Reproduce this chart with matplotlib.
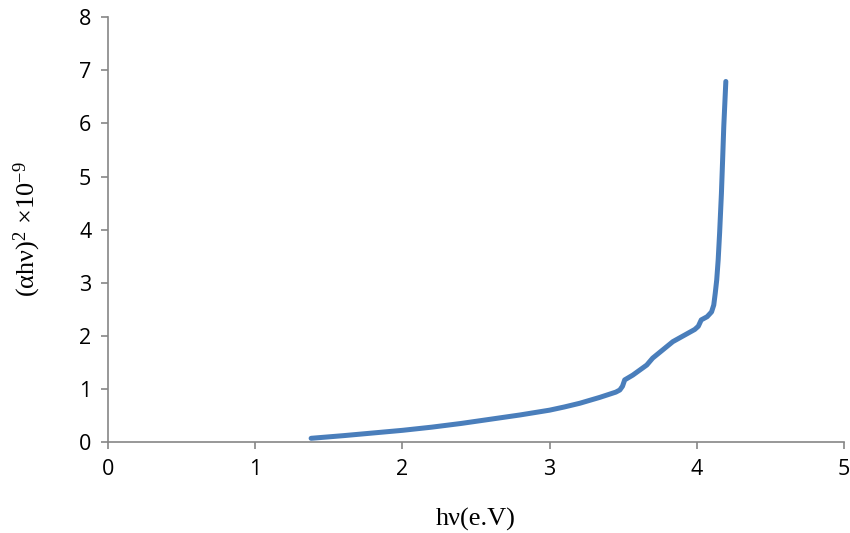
import numpy as np
import matplotlib.pyplot as plt

plt.rcParams['mathtext.fontset'] = 'custom'
plt.rcParams['mathtext.rm'] = 'Liberation Serif'
plt.rcParams['mathtext.it'] = 'Liberation Serif'

# photon energy (eV) and (alpha h nu)^2 x 1e-9
hv = [1.38, 1.6, 1.8, 2.0, 2.2, 2.4, 2.6, 2.8, 3.0, 3.1, 3.205, 3.34, 3.45,
      3.477, 3.495, 3.51, 3.565, 3.66, 3.70, 3.837, 3.986, 4.01, 4.03, 4.07,
      4.10, 4.115, 4.125, 4.135, 4.145, 4.155, 4.167, 4.175, 4.183, 4.197]
ahv2 = [0.07, 0.12, 0.17, 0.22, 0.28, 0.35, 0.43, 0.51, 0.60, 0.66, 0.73, 0.84,
        0.94, 0.98, 1.05, 1.17, 1.26, 1.45, 1.58, 1.89, 2.12, 2.18, 2.30, 2.36,
        2.45, 2.58, 2.8, 3.05, 3.43, 3.95, 4.68, 5.3, 5.94, 6.79]

xticks = [0, 1, 2, 3, 4, 5]
yticks = [0, 1, 2, 3, 4, 5, 6, 7, 8]

fig = plt.figure(figsize=(8.5, 5.33), dpi=100)
ax = fig.add_axes([0.127, 0.1707, 0.866, 0.797])

ax.plot(hv, ahv2, color='#4A7EBB', lw=3.6, solid_capstyle='round',
        solid_joinstyle='round')

ax.set_xlim(0, 5)
ax.set_ylim(0, 8)
ax.set_xticks(xticks)
ax.set_yticks(yticks)

for s in ['top', 'right']:
    ax.spines[s].set_visible(False)
for s in ['left', 'bottom']:
    ax.spines[s].set_color('#868686')
    ax.spines[s].set_linewidth(1.2)
ax.tick_params(direction='out', length=5, width=1.2, color='#868686',
               labelcolor='black', pad=7)
for lab in ax.get_xticklabels() + ax.get_yticklabels():
    lab.set_family('Open Sans')
    lab.set_fontsize(15.5)

ax.set_xlabel('hν(e.V)', family='Liberation Serif', fontsize=19, labelpad=20)
ax.set_ylabel('(αhν)$^{2}$ ×10$^{-9}$', family='Liberation Serif', fontsize=19,
              labelpad=26)

fig.savefig('out.png', dpi=100)
